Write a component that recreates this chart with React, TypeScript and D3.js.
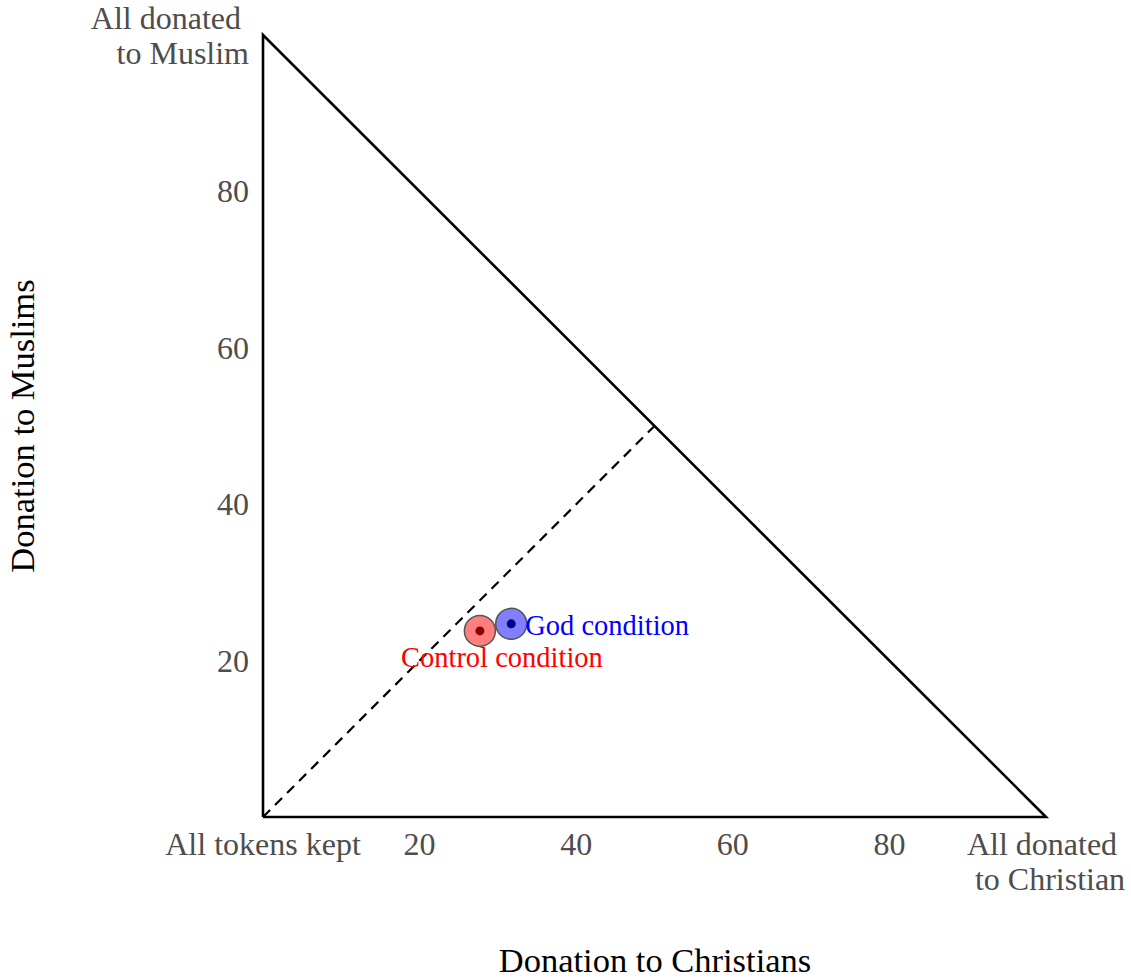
import React from "react";
import * as d3 from "d3";

// Mean allocations (tokens out of 100) per experimental condition
const conditions = ["Control condition", "God condition"];
const christianMeans = [27.7, 31.7];
const muslimMeans = [23.8, 24.7];
const pointFill = ["rgba(255,0,0,0.5)", "rgba(0,0,255,0.5)"];
const centerFill = ["#8b0000", "#000080"];
const labelColor = ["#ff0000", "#0000ff"];

const xTicks = [0, 20, 40, 60, 80, 100];
const yTicks = [0, 20, 40, 60, 80, 100];
const xTickLabels = [["All tokens kept"], ["20"], ["40"], ["60"], ["80"], ["All donated ", " to Christian"]];
const yTickLabels = [[""], ["20"], ["40"], ["60"], ["80"], ["All donated ", " to Muslim"]];

const W = 1131;
const H = 980;
const font = "'Liberation Serif', 'Times New Roman', serif";

export default function App() {
  const x = d3.scaleLinear().domain([0, 100]).range([263, 1046]);
  const y = d3.scaleLinear().domain([0, 100]).range([817, 35]);
  const line = d3.line<[number, number]>().x((d) => x(d[0])).y((d) => y(d[1]));

  const triangle: [number, number][] = [[0, 0], [100, 0], [0, 100], [0, 0]];
  const diagonal: [number, number][] = [[0, 0], [50, 50]];

  return (
    <svg width={W} height={H} style={{ position: "absolute", left: 0, top: 0 }} fontFamily={font}>
      <rect width={W} height={H} fill="#fff" />
      <path d={line(diagonal) || ""} fill="none" stroke="#000" strokeWidth={2.2} strokeDasharray="10,7" />
      <path d={line(triangle) || ""} fill="none" stroke="#000" strokeWidth={2.6} strokeLinejoin="miter" />

      {xTicks.map((t, i) => (
        <text key={"xt" + i} x={x(t)} y={855} textAnchor="middle" fontSize={32} fill="#4d4d4d" style={{ whiteSpace: "pre" }}>
          {xTickLabels[i].map((s, j) => (
            <tspan key={j} x={x(t)} dy={j === 0 ? 0 : 35}>{s}</tspan>
          ))}
        </text>
      ))}
      {yTicks.map((t, i) => {
        const lines = yTickLabels[i];
        const y0 = y(t) + 11 - (lines.length - 1) * 17;
        return (
          <text key={"yt" + i} x={249} y={y0} textAnchor="end" fontSize={32} fill="#4d4d4d" style={{ whiteSpace: "pre" }}>
            {lines.map((s, j) => (
              <tspan key={j} x={249} dy={j === 0 ? 0 : 35}>{s}</tspan>
            ))}
          </text>
        );
      })}

      {conditions.map((c, i) => (
        <g key={c}>
          <circle cx={x(christianMeans[i])} cy={y(muslimMeans[i])} r={15.5} fill={pointFill[i]} stroke="#555" strokeWidth={1.5} />
          <circle cx={x(christianMeans[i])} cy={y(muslimMeans[i])} r={4.5} fill={centerFill[i]} />
        </g>
      ))}
      <text x={x(christianMeans[1]) + 14} y={y(muslimMeans[1]) + 11} fontSize={28.5} fill={labelColor[1]}>
        {conditions[1]}
      </text>
      <text x={x(christianMeans[0]) + 22} y={y(muslimMeans[0]) + 36} textAnchor="middle" fontSize={28.5} fill={labelColor[0]}>
        {conditions[0]}
      </text>

      <text x={655} y={972} textAnchor="middle" fontSize={34.5} fill="#000">Donation to Christians</text>
      <text transform={`translate(34,${426}) rotate(-90)`} textAnchor="middle" fontSize={34.5} fill="#000">
        Donation to Muslims
      </text>
    </svg>
  );
}
